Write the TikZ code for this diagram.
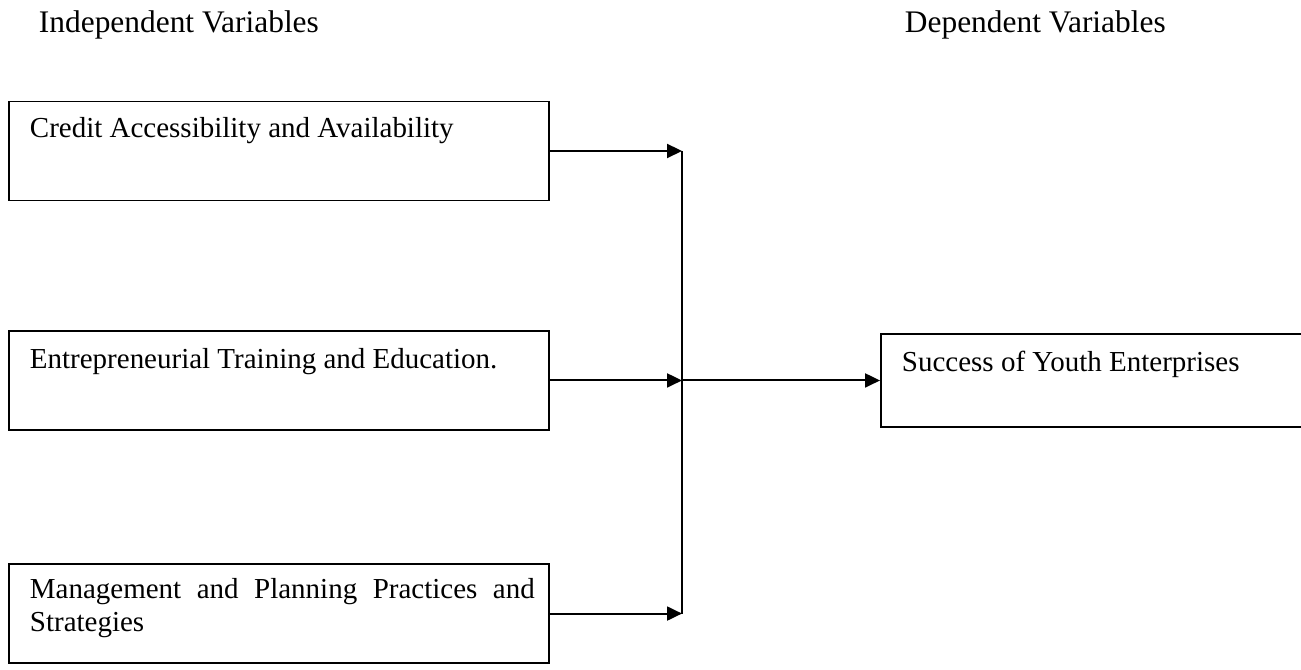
\documentclass[tikz,border=0pt]{standalone}
\usepackage{fontspec}
\setmainfont{Liberation Serif}
\usetikzlibrary{arrows.meta, calc, positioning}

\begin{document}
\begin{tikzpicture}[x=0.414pt, y=-0.414pt, line width=0.8pt, node distance=95pt,
  varbox/.style={rectangle, draw, minimum width=223.6pt, minimum height=41pt, inner sep=0pt},
  vartext/.style={anchor=base west, align=left, inner sep=0pt, font=\fontsize{12}{13.5}\selectfont},
  heading/.style={anchor=base west, inner sep=0pt, font=\fontsize{13}{15}\selectfont}]
\useasboundingbox (0,0) rectangle (1301,670);
\node[heading] (IND) at (38,33)  {Independent Variables};
\node[heading] (DEP) at (904,33) {Dependent Variables};
% independent variables
\node[varbox]                                         (CREDIT) at (279,151) {};
\node[varbox, below of=CREDIT]                        (TRAIN)  {};
\node[varbox, below of=TRAIN, node distance=96.5pt]   (MGMT)   {};
\node[vartext] (CREDITTXT) at ($(CREDIT.north west)+(21,37)$) {Credit Accessibility and Availability};
\node[vartext] (TRAINTXT)  at ($(TRAIN.north west)+(21,39)$)  {Entrepreneurial Training and Education.};
\node[vartext] (MGMTTXT)   at ($(MGMT.north west)+(21,68)$)   {\makebox[209pt][s]{Management and Planning Practices and}\\Strategies};
% joining line
\coordinate (TOP) at ($(CREDIT.east)+(132,0)$);
\coordinate (MID) at ($(TRAIN.east)+(132,0)$);
\coordinate (BOT) at ($(MGMT.east)+(132,0)$);
% dependent variable
\node[varbox, anchor=west, minimum width=178.4pt, minimum height=38.6pt] (SUCCESS) at ($(MID)+(198,0)$) {};
\node[vartext] (SUCCESSTXT) at ($(SUCCESS.north west)+(21,39)$) {Success of Youth Enterprises};
\draw (TOP) -- (BOT);
\path[-{Triangle[length=6.2pt, width=5.8pt]}]
(CREDIT) edge (TOP)
(TRAIN)  edge (MID)
(MGMT)   edge (BOT)
(MID)    edge (SUCCESS);
\end{tikzpicture}
\end{document}
